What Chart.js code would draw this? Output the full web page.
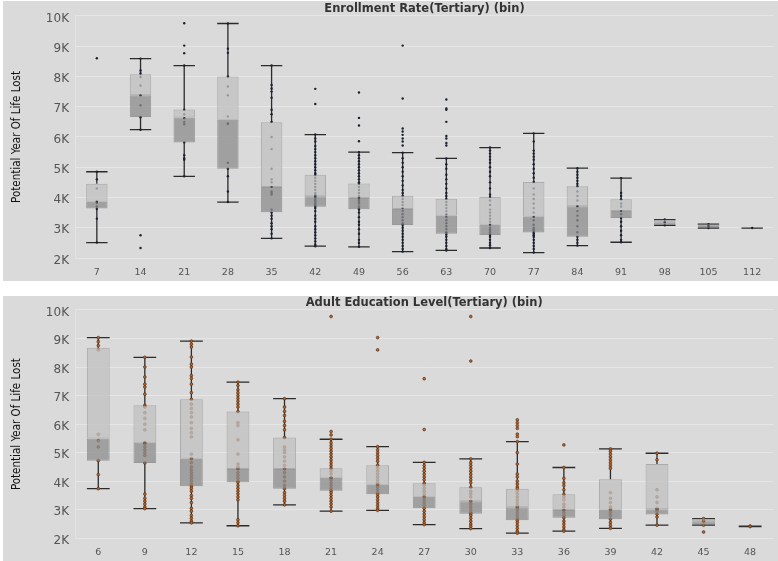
<!DOCTYPE html>
<html>
<head>
<meta charset="utf-8">
<script src="https://cdn.jsdelivr.net/npm/chart.js@4.4.0/dist/chart.umd.min.js"></script>
<style>
body{margin:0;background:#fff;width:778px;height:561px;overflow:hidden;position:relative}
.panel{position:absolute;left:3px;width:775px;background:#dadada}
#p1{top:1px;height:280px}
#p2{top:296px;height:265px}
</style>
</head>
<body>
<div class="panel" id="p1"><canvas id="c1"></canvas></div>
<div class="panel" id="p2"><canvas id="c2"></canvas></div>
<script>
// valores en miles (K)
const enrollLabels = ["7","14","21","28","35","42","49","56","63","70","77","84","91","98","105","112"];
const enrollLow    = [2.51, 6.24, 4.70, 3.85, 2.65, 2.39, 2.37, 2.21, 2.25, 2.33, 2.18, 2.41, 2.52, 3.08, 2.99, 2.99];
const enrollQ1     = [3.64, 6.66, 5.82, 4.95, 3.51, 3.69, 3.61, 3.09, 2.80, 2.76, 2.84, 2.70, 3.32, 3.08, 2.99, 2.99];
const enrollMedian = [3.86, 7.38, 6.64, 6.57, 4.35, 4.04, 3.98, 3.62, 3.40, 3.10, 3.36, 3.71, 3.55, 3.18, 3.06, 2.99];
const enrollQ3     = [4.45, 8.07, 6.91, 8.00, 6.49, 4.75, 4.46, 4.06, 3.96, 4.02, 4.51, 4.37, 3.94, 3.27, 3.12, 2.99];
const enrollHigh   = [4.85, 8.59, 8.36, 9.75, 8.36, 6.08, 5.50, 5.48, 5.29, 5.65, 6.12, 4.97, 4.64, 3.27, 3.12, 2.99];
const enrollPoints = [
  [8.6, 4.85, 4.6, 4.3, 3.87, 3.82, 3.7, 3.62, 3.3, 2.51],
  [8.59, 8.2, 8.1, 7.98, 7.7, 7.38, 7.05, 6.65, 6.24, 2.75, 2.33],
  [9.76, 9.02, 8.77, 8.36, 6.9, 6.75, 6.62, 6.5, 6.42, 5.82, 5.4, 5.3, 5.25, 4.7],
  [9.75, 8.92, 8.78, 8.0, 7.67, 7.38, 6.68, 6.45, 6.43, 5.15, 4.95, 4.7, 4.2, 3.85],
  [8.36, 7.72, 7.6, 7.5, 7.3, 6.9, 6.75, 6.5, 6.0, 5.6, 4.95, 4.6, 4.5, 4.35, 4.2, 4.15, 4.1, 3.6, 3.5, 3.4, 3.3, 3.15, 3.05, 2.95, 2.8, 2.65],
  [7.59, 7.09, 6.08, 5.95, 5.85, 5.7, 5.6, 5.5, 5.4, 5.3, 5.2, 5.1, 5.0, 4.9, 4.8, 4.75, 4.65, 4.55, 4.45, 4.35, 4.25, 4.15, 4.1, 4.05, 4.0, 3.95, 3.9, 3.85, 3.8, 3.75, 3.7, 3.65, 3.55, 3.4, 3.3, 3.2, 3.05, 2.95, 2.85, 2.75, 2.65, 2.55, 2.45, 2.39],
  [7.47, 6.63, 6.38, 5.86, 5.5, 5.4, 5.3, 5.2, 5.1, 5.0, 4.9, 4.8, 4.7, 4.6, 4.5, 4.45, 4.35, 4.25, 4.15, 4.05, 4.0, 3.95, 3.9, 3.85, 3.8, 3.7, 3.65, 3.6, 3.5, 3.35, 3.2, 3.1, 2.95, 2.8, 2.6, 2.5, 2.37],
  [9.02, 7.27, 6.28, 6.18, 6.07, 5.95, 5.85, 5.72, 5.48, 5.3, 5.15, 5.0, 4.85, 4.7, 4.55, 4.4, 4.25, 4.15, 4.06, 3.95, 3.85, 3.75, 3.65, 3.55, 3.45, 3.35, 3.25, 3.15, 3.09, 3.0, 2.9, 2.8, 2.7, 2.6, 2.5, 2.4, 2.3, 2.21],
  [7.24, 6.94, 6.9, 6.5, 6.03, 5.95, 5.8, 5.72, 5.29, 5.1, 4.95, 4.75, 4.6, 4.45, 4.3, 4.15, 4.05, 3.96, 3.85, 3.75, 3.65, 3.55, 3.45, 3.35, 3.25, 3.15, 3.05, 2.95, 2.85, 2.78, 2.7, 2.6, 2.5, 2.4, 2.3, 2.25],
  [5.65, 5.55, 5.45, 5.35, 5.25, 5.15, 5.0, 4.85, 4.7, 4.5, 4.3, 4.1, 4.02, 3.9, 3.75, 3.6, 3.5, 3.4, 3.3, 3.2, 3.1, 3.0, 2.95, 2.9, 2.85, 2.8, 2.76, 2.7, 2.6, 2.5, 2.42, 2.33],
  [6.12, 5.85, 5.55, 5.45, 5.35, 5.25, 5.1, 4.95, 4.8, 4.65, 4.51, 4.3, 4.1, 3.95, 3.8, 3.65, 3.5, 3.36, 3.25, 3.1, 3.0, 2.95, 2.9, 2.84, 2.8, 2.75, 2.7, 2.6, 2.5, 2.4, 2.3, 2.18],
  [4.97, 4.85, 4.75, 4.65, 4.55, 4.45, 4.37, 4.2, 4.05, 3.9, 3.71, 3.55, 3.4, 3.25, 3.05, 2.85, 2.7, 2.6, 2.5, 2.41],
  [4.64, 4.15, 4.05, 3.94, 3.8, 3.7, 3.55, 3.45, 3.32, 3.2, 3.05, 2.9, 2.75, 2.6, 2.52],
  [3.27, 3.18, 3.08],
  [3.12, 3.06, 2.99],
  [2.99]
];

const adultLabels = ["6","9","12","15","18","21","24","27","30","33","36","39","42","45","48"];
const adultLow    = [3.74, 3.04, 2.54, 2.44, 3.17, 2.95, 2.98, 2.48, 2.34, 2.18, 2.25, 2.35, 2.46, 2.46, 2.41];
const adultQ1     = [4.72, 4.64, 3.82, 3.96, 3.74, 3.67, 3.54, 3.05, 2.86, 2.63, 2.72, 2.67, 2.83, 2.46, 2.41];
const adultMedian = [5.50, 5.35, 4.79, 4.43, 4.43, 4.12, 3.88, 3.46, 3.30, 3.09, 2.99, 3.00, 3.02, 2.60, 2.42];
const adultQ3     = [8.68, 6.66, 6.87, 6.44, 5.53, 4.45, 4.56, 3.93, 3.79, 3.74, 3.54, 4.07, 4.60, 2.69, 2.43];
const adultHigh   = [9.03, 8.34, 8.91, 7.47, 6.89, 5.47, 5.21, 4.66, 4.78, 5.39, 4.48, 5.13, 4.98, 2.69, 2.43];
const adultPoints = [
  [9.03, 8.89, 8.75, 8.6, 5.64, 5.42, 5.2, 4.72, 4.23, 3.74],
  [8.34, 8.0, 7.65, 7.4, 7.3, 7.05, 6.66, 6.6, 6.4, 6.2, 6.0, 5.8, 5.35, 5.3, 5.2, 5.1, 5.0, 4.9, 4.64, 3.55, 3.4, 3.3, 3.2, 3.1, 3.04],
  [8.91, 8.8, 8.7, 8.35, 8.1, 8.0, 7.7, 7.6, 7.4, 7.1, 6.87, 6.7, 6.55, 6.4, 6.25, 6.05, 5.85, 5.7, 5.55, 4.95, 4.79, 4.65, 4.5, 4.4, 4.3, 4.2, 4.1, 4.0, 3.9, 3.82, 3.75, 3.65, 3.5, 3.4, 3.25, 3.05, 2.95, 2.8, 2.7, 2.6, 2.54],
  [7.47, 7.35, 7.2, 7.1, 7.0, 6.9, 6.8, 6.7, 6.6, 6.44, 6.05, 5.95, 5.45, 4.95, 4.6, 4.5, 4.43, 4.3, 4.2, 4.1, 4.0, 3.96, 3.85, 3.75, 3.65, 3.55, 3.45, 3.35, 2.65, 2.55, 2.44],
  [6.89, 6.6, 6.45, 6.3, 6.1, 5.95, 5.8, 5.53, 5.2, 5.1, 5.0, 4.85, 4.7, 4.55, 4.43, 4.3, 4.15, 4.0, 3.85, 3.74, 3.6, 3.5, 3.4, 3.3, 3.17],
  [9.77, 5.74, 5.62, 5.47, 5.35, 5.25, 5.15, 5.05, 4.95, 4.85, 4.75, 4.65, 4.55, 4.45, 4.35, 4.25, 4.12, 4.05, 3.95, 3.85, 3.75, 3.67, 3.6, 3.5, 3.4, 3.3, 3.2, 3.1, 2.95],
  [9.03, 8.6, 5.21, 5.1, 5.0, 4.9, 4.8, 4.7, 4.56, 4.45, 4.35, 4.25, 4.15, 4.05, 3.95, 3.88, 3.8, 3.7, 3.6, 3.54, 3.45, 3.35, 3.25, 3.15, 3.05, 2.98],
  [7.59, 5.81, 4.66, 4.55, 4.45, 4.35, 4.25, 4.15, 4.05, 3.93, 3.85, 3.75, 3.65, 3.55, 3.46, 3.35, 3.25, 3.15, 3.05, 2.95, 2.85, 2.75, 2.65, 2.55, 2.48],
  [9.77, 8.21, 4.78, 4.65, 4.55, 4.45, 4.35, 4.25, 4.15, 4.05, 3.95, 3.79, 3.65, 3.55, 3.45, 3.3, 3.2, 3.1, 3.0, 2.9, 2.86, 2.8, 2.7, 2.6, 2.5, 2.42, 2.34],
  [6.15, 6.05, 5.95, 5.85, 5.65, 5.56, 5.39, 5.0, 4.6, 4.25, 4.15, 4.0, 3.9, 3.8, 3.74, 3.65, 3.55, 3.45, 3.35, 3.25, 3.15, 3.09, 3.0, 2.9, 2.8, 2.7, 2.63, 2.55, 2.45, 2.35, 2.25, 2.18],
  [5.27, 4.48, 4.1, 3.95, 3.85, 3.7, 3.54, 3.45, 3.35, 3.2, 3.1, 2.99, 2.9, 2.8, 2.72, 2.6, 2.5, 2.4, 2.3, 2.25],
  [5.13, 5.05, 4.95, 4.85, 4.75, 4.65, 4.55, 4.45, 3.6, 3.4, 3.25, 3.1, 3.0, 2.9, 2.8, 2.67, 2.55, 2.45, 2.35],
  [4.98, 4.75, 3.7, 3.45, 3.25, 3.05, 3.02, 2.95, 2.85, 2.75, 2.46],
  [2.69, 2.6, 2.46, 2.22],
  [2.43, 2.41]
];

const yTicks = [2, 3, 4, 5, 6, 7, 8, 9, 10];

// bigotes y topes, dibujados con las escalas del gráfico
function whiskerPlugin(low, q1, q3, high) {
  return {
    id: "whiskers",
    beforeDatasetsDraw(chart) {
      const { ctx } = chart;
      const x = chart.scales.x, y = chart.scales.y;
      const bars = chart.getDatasetMeta(0).data;
      ctx.save();
      ctx.strokeStyle = "#2b2b2b";
      ctx.lineWidth = 1.3;
      low.forEach((lo, i) => {
        const px = x.getPixelForValue(i);
        const half = bars[i].width / 2;
        const yLo = y.getPixelForValue(lo);
        const yQ1 = y.getPixelForValue(q1[i]);
        const yQ3 = y.getPixelForValue(q3[i]);
        const yHi = y.getPixelForValue(high[i]);
        ctx.beginPath();
        ctx.moveTo(px, yLo); ctx.lineTo(px, yQ1);
        ctx.moveTo(px, yQ3); ctx.lineTo(px, yHi);
        ctx.moveTo(px - half, yLo); ctx.lineTo(px + half, yLo);
        ctx.moveTo(px - half, yHi); ctx.lineTo(px + half, yHi);
        ctx.stroke();
      });
      ctx.restore();
    }
  };
}

function makeBoxChart(id, title, labels, low, q1, med, q3, high, pts, dot, cfg) {
  const points = labels.flatMap((lab, i) => pts[i].map((v) => ({ x: lab, y: v })));
  return new Chart(document.getElementById(id), {
    data: {
      labels,
      datasets: [
        {
          type: "bar",
          data: labels.map((_, i) => [q1[i], med[i]]),
          backgroundColor: "rgba(140,140,140,0.75)",
          borderColor: "rgba(110,110,110,0.6)",
          borderWidth: 1,
          borderSkipped: false,
          grouped: false,
          barPercentage: 0.49,
          categoryPercentage: 1
        },
        {
          type: "bar",
          data: labels.map((_, i) => [med[i], q3[i]]),
          backgroundColor: "rgba(192,192,192,0.75)",
          borderColor: "rgba(125,125,125,0.5)",
          borderWidth: 1,
          borderSkipped: false,
          grouped: false,
          barPercentage: 0.49,
          categoryPercentage: 1
        },
        {
          type: "line",
          data: points,
          showLine: false,
          pointRadius: dot.r,
          pointBackgroundColor: dot.fill,
          pointBorderColor: dot.stroke,
          pointBorderWidth: dot.bw
        }
      ]
    },
    options: {
      responsive: true,
      maintainAspectRatio: false,
      animation: false,
      events: [],
      layout: { padding: { left: 3, right: 3, top: 0, bottom: 0 } },
      plugins: {
        legend: { display: false },
        tooltip: { enabled: false },
        title: {
          display: true,
          text: title,
          fullSize: false,
          color: "#333",
          font: { family: "DejaVu Sans", size: 11.5, weight: "600", lineHeight: 1.1 },
          padding: cfg.titlePad
        }
      },
      scales: {
        x: {
          type: "category",
          offset: true,
          grid: { display: false, drawTicks: false },
          border: { display: false },
          ticks: {
            color: "#555",
            font: { family: "DejaVu Sans", size: 9.5 },
            padding: 9,
            maxRotation: 0,
            autoSkip: false
          },
          afterFit: (s) => { s.height = cfg.xHeight; }
        },
        y: {
          min: 2,
          max: 10,
          afterBuildTicks: (s) => { s.ticks = yTicks.map((v) => ({ value: v })); },
          grid: { color: "#e6e6e6", drawTicks: false },
          border: { display: true, color: "#e4e4e4" },
          ticks: {
            color: "#555",
            font: { family: "DejaVu Sans", size: 12 },
            padding: 6,
            labelOffset: 2.5,
            callback: (v) => v + "K"
          },
          title: {
            display: true,
            text: "Potential Year Of Life Lost",
            color: "#111",
            font: { family: "'Liberation Sans Narrow', 'DejaVu Sans Condensed', sans-serif", size: 11.5 },
            padding: { top: 4, bottom: 0 }
          },
          afterFit: (s) => { s.width = 69; }
        }
      }
    },
    plugins: [whiskerPlugin(low, q1, q3, high)]
  });
}

makeBoxChart("c1", "Enrollment Rate(Tertiary) (bin)", enrollLabels,
  enrollLow, enrollQ1, enrollMedian, enrollQ3, enrollHigh, enrollPoints,
  { r: 1.2, fill: "#1b2030", stroke: "#1b2030", bw: 0 },
  { titlePad: { top: 1.5, bottom: 0.8 }, xHeight: 23 });

makeBoxChart("c2", "Adult Education Level(Tertiary) (bin)", adultLabels,
  adultLow, adultQ1, adultMedian, adultQ3, adultHigh, adultPoints,
  { r: 1.4, fill: "#b8662c", stroke: "#4a2810", bw: 0.6 },
  { titlePad: { top: 0.5, bottom: 0.8 }, xHeight: 22.7 });
</script>
</body>
</html>
